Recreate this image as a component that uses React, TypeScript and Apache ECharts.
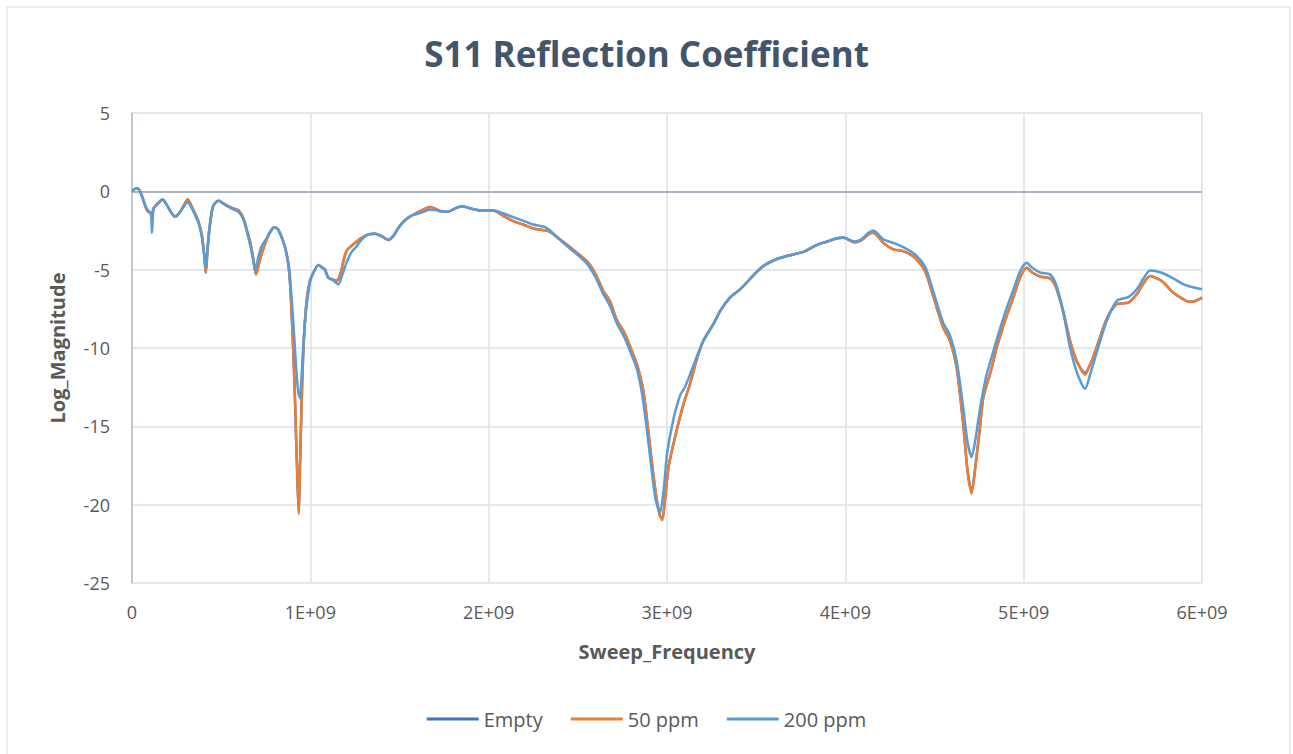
import React, { useEffect, useRef } from "react";
import * as echarts from "echarts";

const seriesNames = ["Empty", "50 ppm", "200 ppm"];
const xTickValues = [0, 1, 2, 3, 4, 5, 6]; // x 1E+09
const yTickValues = [-25, -20, -15, -10, -5, 0, 5];

// Sweep frequency in units of 1E+09 Hz, Log magnitude in dB
const freq50 = [
  0.000, 0.015, 0.030, 0.045, 0.065, 0.082, 0.100, 0.112, 0.123, 0.148, 0.172, 0.194, 0.220, 0.241, 0.260, 0.278,
  0.300, 0.312, 0.334, 0.355, 0.372, 0.391, 0.405, 0.414, 0.422, 0.433, 0.452, 0.470, 0.487, 0.510, 0.530, 0.559,
  0.596, 0.624, 0.645, 0.662, 0.680, 0.695, 0.712, 0.727, 0.755, 0.780, 0.798, 0.820, 0.848, 0.867, 0.882, 0.892,
  0.901, 0.912, 0.920, 0.928, 0.935, 0.940, 0.946, 0.955, 0.965, 0.980, 0.998, 1.017, 1.045, 1.065, 1.082, 1.100,
  1.120, 1.150, 1.170, 1.203, 1.260, 1.290, 1.325, 1.363, 1.400, 1.437, 1.465, 1.490, 1.521, 1.560, 1.596, 1.635,
  1.671, 1.700, 1.727, 1.774, 1.810, 1.849, 1.900, 1.951, 2.026, 2.080, 2.138, 2.200, 2.250, 2.335, 2.400, 2.450,
  2.494, 2.559, 2.600, 2.643, 2.680, 2.718, 2.760, 2.793, 2.830, 2.867, 2.890, 2.914, 2.940, 2.960, 2.974, 2.990,
  3.010, 3.045, 3.073, 3.100, 3.129, 3.165, 3.204, 3.260, 3.300, 3.353, 3.409, 3.437, 3.490, 3.540, 3.600, 3.671,
  3.764, 3.839, 3.900, 3.951, 3.989, 4.054, 4.092, 4.130, 4.157, 4.185, 4.213, 4.269, 4.325, 4.391, 4.447, 4.480,
  4.512, 4.549, 4.587, 4.624, 4.661, 4.685, 4.708, 4.730, 4.755, 4.774, 4.820, 4.848, 4.900, 4.942, 4.980, 5.017,
  5.050, 5.095, 5.147, 5.180, 5.220, 5.260, 5.300, 5.344, 5.375, 5.409, 5.465, 5.521, 5.587, 5.634, 5.670, 5.708,
  5.774, 5.839, 5.890, 5.923, 5.950, 5.980, 6.000,
];
const val50 = [
  0.0, 0.15, 0.2, 0.0, -0.6, -1.15, -1.35, -1.35, -1.05, -0.75, -0.53, -0.85, -1.35, -1.63, -1.45, -1.17,
  -0.7, -0.5, -0.95, -1.45, -1.9, -2.75, -4.1, -5.2, -4.0, -2.55, -1.06, -0.7, -0.6, -0.75, -0.9, -1.06,
  -1.2, -1.7, -2.5, -3.2, -4.3, -5.3, -4.6, -4.0, -3.07, -2.5, -2.3, -2.45, -3.2, -4.0, -5.2, -7.0,
  -9.3, -12.5, -15.7, -18.5, -20.6, -18.5, -15.7, -12.0, -9.2, -6.9, -5.7, -5.2, -4.7, -4.85, -5.0, -5.5,
  -5.6, -5.7, -5.2, -3.8, -3.2, -2.95, -2.75, -2.7, -2.86, -3.1, -2.86, -2.4, -1.95, -1.6, -1.38, -1.15,
  -1.0, -1.1, -1.25, -1.3, -1.1, -0.95, -1.1, -1.23, -1.23, -1.55, -1.9, -2.15, -2.37, -2.54, -3.07, -3.5,
  -3.92, -4.56, -5.3, -6.36, -7.0, -8.2, -9.0, -9.9, -11.0, -12.7, -14.8, -17.2, -19.5, -20.7, -21.0, -19.5,
  -17.5, -15.7, -14.4, -13.3, -12.3, -10.8, -9.54, -8.48, -7.6, -6.78, -6.26, -5.94, -5.3, -4.77, -4.4, -4.13,
  -3.86, -3.43, -3.2, -3.01, -2.97, -3.25, -3.1, -2.75, -2.65, -2.9, -3.29, -3.71, -3.82, -4.24, -5.09, -6.2,
  -7.4, -8.7, -9.54, -11.24, -14.85, -17.8, -19.3, -17.5, -15.05, -13.15, -11.3, -10.0, -8.1, -6.78, -5.5, -4.88,
  -5.2, -5.45, -5.56, -6.1, -7.6, -9.54, -10.9, -11.7, -11.0, -9.97, -8.16, -7.21, -7.1, -6.57, -5.9, -5.41,
  -5.73, -6.47, -6.85, -7.04, -7.04, -6.9, -6.78,
];
// "Empty" lies under the 50 ppm trace everywhere it can be seen
const freqEmpty = freq50;
const valEmpty = [
  0.0, 0.15, 0.2, 0.0, -0.6, -1.15, -1.35, -1.35, -1.05, -0.75, -0.53, -0.85, -1.35, -1.63, -1.45, -1.17,
  -0.7, -0.5, -0.95, -1.45, -1.9, -2.75, -4.1, -5.2, -4.0, -2.55, -1.06, -0.7, -0.6, -0.75, -0.9, -1.06,
  -1.2, -1.7, -2.5, -3.2, -4.3, -5.3, -4.6, -4.0, -3.07, -2.5, -2.3, -2.45, -3.2, -4.0, -5.2, -7.0,
  -9.3, -12.5, -15.7, -18.5, -20.5, -18.5, -15.7, -12.0, -9.2, -6.9, -5.7, -5.2, -4.7, -4.85, -5.0, -5.5,
  -5.6, -5.7, -5.2, -3.8, -3.2, -2.95, -2.75, -2.7, -2.86, -3.1, -2.86, -2.4, -1.95, -1.6, -1.38, -1.15,
  -1.0, -1.1, -1.25, -1.3, -1.1, -0.95, -1.1, -1.23, -1.23, -1.55, -1.9, -2.15, -2.37, -2.54, -3.07, -3.5,
  -3.92, -4.56, -5.3, -6.36, -7.0, -8.2, -9.0, -9.9, -11.0, -12.7, -14.8, -17.2, -19.5, -20.7, -20.9, -19.5,
  -17.5, -15.7, -14.4, -13.3, -12.3, -10.8, -9.54, -8.48, -7.6, -6.78, -6.26, -5.94, -5.3, -4.77, -4.4, -4.13,
  -3.86, -3.43, -3.2, -3.01, -2.97, -3.25, -3.1, -2.75, -2.65, -2.9, -3.29, -3.71, -3.82, -4.24, -5.09, -6.2,
  -7.4, -8.7, -9.54, -11.24, -14.85, -17.8, -19.2, -17.5, -15.05, -13.15, -11.3, -10.0, -8.1, -6.78, -5.5, -4.88,
  -5.2, -5.45, -5.56, -6.1, -7.6, -9.54, -10.9, -11.6, -11.0, -9.97, -8.16, -7.21, -7.1, -6.57, -5.9, -5.41,
  -5.73, -6.47, -6.85, -7.04, -7.04, -6.9, -6.78,
];
const freq200 = [
  0.000, 0.015, 0.030, 0.045, 0.065, 0.082, 0.100, 0.108, 0.112, 0.117, 0.123, 0.148, 0.172, 0.194, 0.220, 0.241,
  0.260, 0.278, 0.300, 0.312, 0.334, 0.355, 0.372, 0.391, 0.405, 0.414, 0.422, 0.433, 0.452, 0.470, 0.487, 0.510,
  0.530, 0.559, 0.596, 0.624, 0.645, 0.662, 0.680, 0.692, 0.708, 0.727, 0.755, 0.780, 0.798, 0.820, 0.848, 0.867,
  0.882, 0.895, 0.908, 0.920, 0.932, 0.942, 0.950, 0.960, 0.970, 0.985, 1.000, 1.017, 1.045, 1.065, 1.082, 1.100,
  1.130, 1.157, 1.180, 1.203, 1.230, 1.260, 1.290, 1.325, 1.363, 1.400, 1.437, 1.465, 1.490, 1.521, 1.560, 1.596,
  1.635, 1.671, 1.700, 1.727, 1.774, 1.810, 1.849, 1.900, 1.951, 2.026, 2.080, 2.138, 2.200, 2.250, 2.320, 2.400,
  2.450, 2.494, 2.550, 2.600, 2.640, 2.680, 2.718, 2.760, 2.793, 2.830, 2.860, 2.885, 2.910, 2.935, 2.961, 2.980,
  3.000, 3.035, 3.073, 3.100, 3.129, 3.165, 3.204, 3.260, 3.300, 3.353, 3.409, 3.437, 3.490, 3.540, 3.600, 3.671,
  3.764, 3.839, 3.900, 3.951, 3.989, 4.054, 4.092, 4.130, 4.157, 4.185, 4.213, 4.269, 4.325, 4.391, 4.447, 4.480,
  4.512, 4.549, 4.587, 4.624, 4.661, 4.685, 4.708, 4.730, 4.755, 4.792, 4.820, 4.848, 4.900, 4.942, 4.980, 5.017,
  5.050, 5.095, 5.147, 5.180, 5.220, 5.260, 5.300, 5.344, 5.375, 5.409, 5.465, 5.521, 5.587, 5.634, 5.670, 5.708,
  5.774, 5.839, 5.890, 5.923, 5.960, 6.000,
];
const val200 = [
  0.0, 0.15, 0.2, 0.0, -0.6, -1.1, -1.35, -1.6, -2.65, -1.6, -1.05, -0.7, -0.5, -0.85, -1.35, -1.6,
  -1.45, -1.15, -0.8, -0.7, -1.05, -1.55, -2.0, -2.85, -4.0, -4.9, -3.8, -2.4, -1.0, -0.7, -0.6, -0.78,
  -0.92, -1.1, -1.3, -1.8, -2.6, -3.4, -4.4, -5.0, -4.2, -3.5, -3.0, -2.5, -2.3, -2.45, -3.2, -4.0,
  -5.0, -6.8, -9.0, -11.2, -12.8, -13.2, -12.0, -10.0, -8.3, -6.8, -5.7, -5.2, -4.7, -4.85, -5.0, -5.5,
  -5.7, -5.94, -5.3, -4.55, -3.9, -3.5, -3.05, -2.75, -2.7, -2.86, -3.1, -2.86, -2.4, -1.95, -1.6, -1.45,
  -1.3, -1.17, -1.2, -1.27, -1.3, -1.1, -0.95, -1.1, -1.2, -1.2, -1.4, -1.65, -1.9, -2.12, -2.3, -3.1,
  -3.6, -4.0, -4.6, -5.5, -6.5, -7.3, -8.4, -9.3, -10.2, -11.3, -12.9, -15.0, -17.4, -19.6, -20.5, -19.2,
  -16.8, -14.6, -13.04, -12.5, -11.7, -10.6, -9.54, -8.48, -7.6, -6.78, -6.26, -5.94, -5.3, -4.77, -4.4, -4.13,
  -3.86, -3.43, -3.2, -3.0, -2.95, -3.2, -3.05, -2.65, -2.5, -2.75, -3.07, -3.29, -3.56, -4.03, -4.8, -5.9,
  -7.1, -8.4, -9.2, -10.8, -13.8, -16.0, -16.96, -15.8, -13.9, -11.7, -10.6, -9.5, -7.6, -6.3, -5.1, -4.56,
  -4.9, -5.2, -5.3, -5.9, -7.6, -9.97, -11.6, -12.6, -11.6, -10.3, -8.3, -7.0, -6.75, -6.25, -5.6, -5.05,
  -5.2, -5.56, -5.9, -6.04, -6.15, -6.25,
];

const seriesColors = ["#4472C4", "#ED7D31", "#5B9BD5"];

function pairs(xs: number[], ys: number[]) {
  return xs.map((x, i) => [x, ys[i]]);
}

export default function App() {
  const ref = useRef<HTMLDivElement>(null);
  useEffect(() => {
    if (!ref.current) return;
    const chart = echarts.init(ref.current, undefined, { renderer: "svg" });
    const font = "'Open Sans', 'Noto Sans', sans-serif";
    const textColor = "#595959";
    const datasets = [
      pairs(freqEmpty, valEmpty),
      pairs(freq50, val50),
      pairs(freq200, val200),
    ];
    chart.setOption({
      animation: false,
      backgroundColor: "#ffffff",
      textStyle: { fontFamily: font },
      title: {
        text: "S11 Reflection Coefficient",
        left: "center",
        top: 31,
        textStyle: { fontFamily: font, fontSize: 35, fontWeight: "bold", color: "#44546A" },
      },
      graphic: [
        {
          type: "rect",
          shape: { x: 7, y: 7, width: 1283, height: 780 },
          style: { fill: "none", stroke: "#D9D9D9", lineWidth: 1 },
          silent: true,
        },
      ],
      legend: {
        data: seriesNames,
        bottom: 20,
        left: "center",
        icon: "rect",
        itemWidth: 52,
        itemHeight: 3,
        itemGap: 28,
        textStyle: { fontFamily: font, fontSize: 20, color: textColor },
      },
      grid: { left: 132, right: 91, top: 113, bottom: 171, containLabel: false },
      xAxis: {
        type: "value",
        min: 0,
        max: 6,
        interval: 1,
        name: "Sweep_Frequency",
        nameLocation: "middle",
        nameGap: 58,
        nameTextStyle: { fontFamily: font, fontSize: 20, fontWeight: "bold", color: textColor },
        axisLine: { show: false, onZero: false },
        axisTick: { show: false },
        axisLabel: {
          margin: 20,
          fontFamily: font,
          fontSize: 18,
          color: textColor,
          formatter: (v: number) => (v === 0 ? "0" : `${v}E+09`),
        },
        splitLine: { show: true, lineStyle: { color: "#DDE1E8", width: 1.5 } },
      },
      yAxis: {
        type: "value",
        min: -25,
        max: 5,
        interval: 5,
        name: "Log_Magnitude",
        nameLocation: "middle",
        nameGap: 65,
        nameTextStyle: { fontFamily: font, fontSize: 20, fontWeight: "bold", color: textColor },
        axisLine: { show: true, lineStyle: { color: "#B4BDCA", width: 1.5 } },
        axisTick: { show: false },
        axisLabel: { margin: 22, fontFamily: font, fontSize: 18, color: textColor },
        splitLine: { show: true, lineStyle: { color: "#DDE1E8", width: 1.5 } },
      },
      series: seriesNames.map((name, i) => ({
        name,
        type: "line",
        data: datasets[i],
        showSymbol: false,
        symbol: "none",
        smooth: 0.25,
        z: 3 + i,
        lineStyle: { color: seriesColors[i], width: 2.5 },
        itemStyle: { color: seriesColors[i] },
        ...(i === 0
          ? {
              markLine: {
                silent: true,
                symbol: "none",
                label: { show: false },
                lineStyle: { color: "#AAB4C2", width: 2, type: "solid" },
                data: [{ yAxis: 0 }],
                z: 1,
              },
            }
          : {}),
      })),
    });
    return () => chart.dispose();
  }, []);
  return (
    <div
      ref={ref}
      style={{ position: "fixed", left: 0, top: 0, width: 1293, height: 754 }}
    />
  );
}
